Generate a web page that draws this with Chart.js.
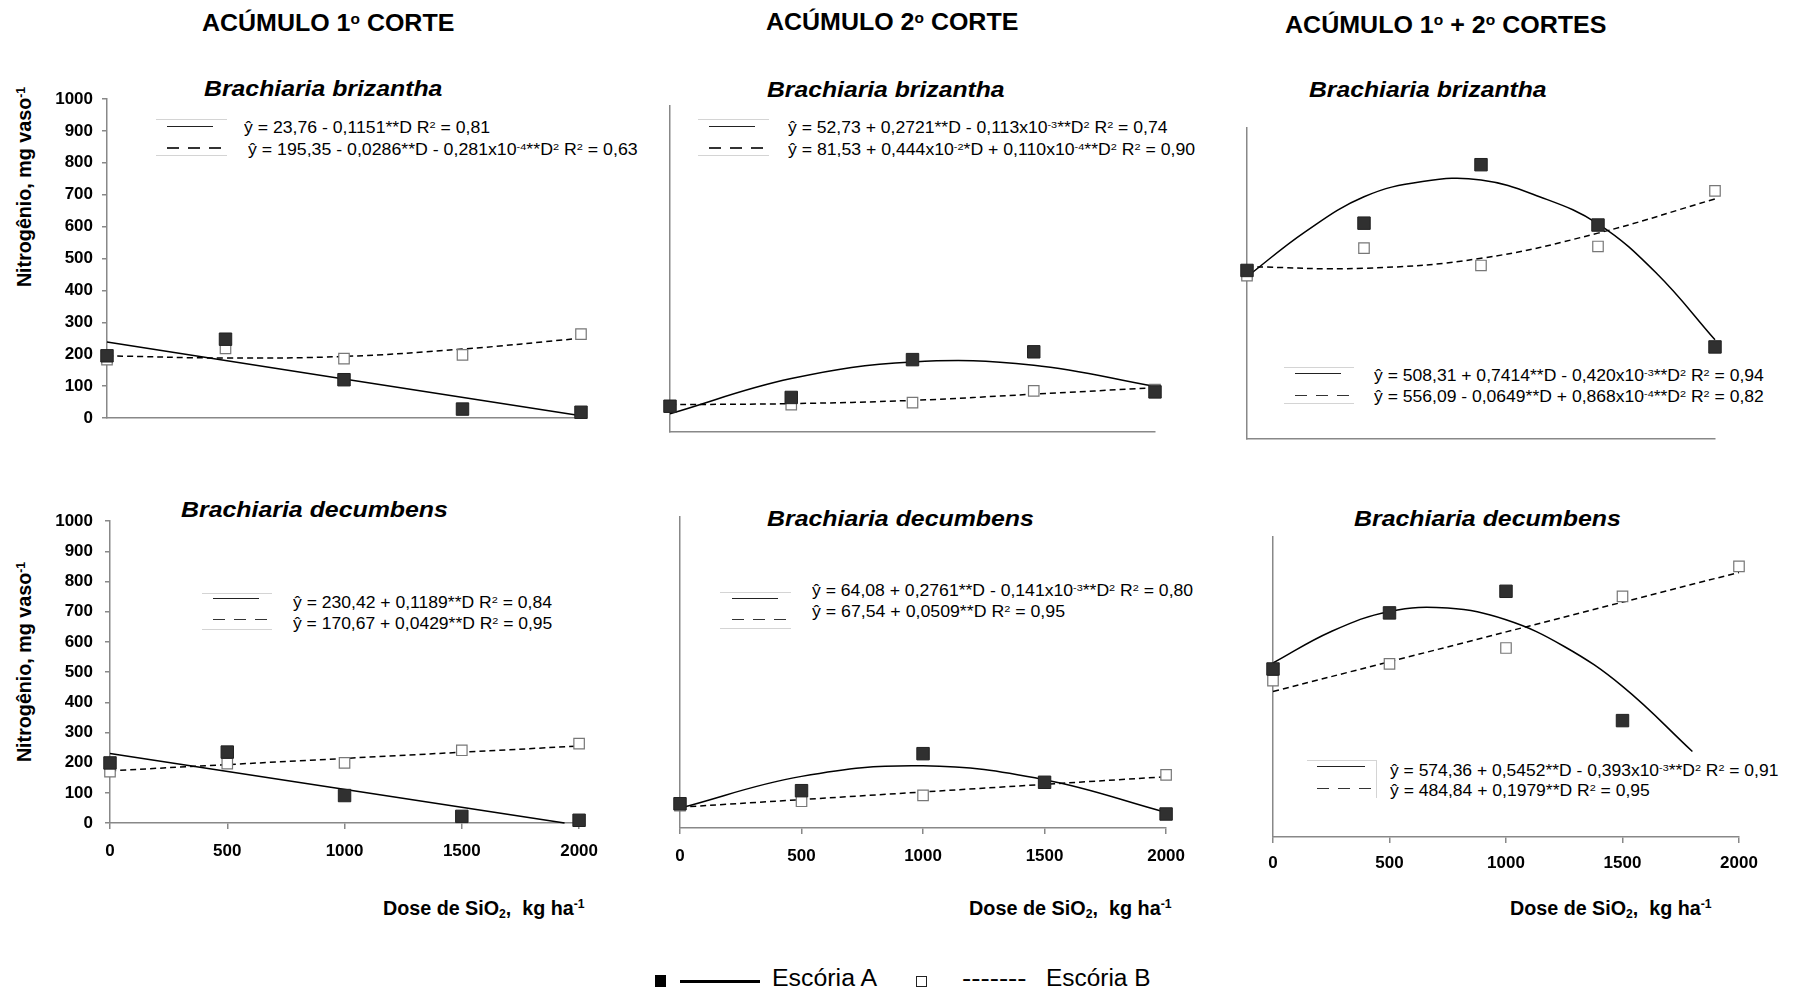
<!DOCTYPE html>
<html lang="pt">
<head>
<meta charset="utf-8">
<title>Nitrogênio acumulado – Brachiaria</title>
<script src="https://cdn.jsdelivr.net/npm/chart.js"></script>
<style>
  html, body { margin: 0; padding: 0; background: #fff; }
  body { position: relative; width: 1796px; height: 996px; overflow: hidden;
         font-family: 'Liberation Sans', Arial, Helvetica, sans-serif; color: #000; }
  canvas { position: absolute; }
  .tx { position: absolute; white-space: nowrap; line-height: 1; transform-origin: 0 50%; }
  .rot { transform-origin: 50% 50%; }
  .ttl { font-size: 23px; font-weight: bold; }
  .sub { font-size: 22px; font-weight: bold; font-style: italic; }
  .eq  { font-size: 16px; }
  .ax  { font-size: 20px; font-weight: bold; }
  .leg { font-size: 23px; }
  sup { font-size: 0.62em; position: relative; top: -0.5em; vertical-align: baseline; line-height: 0; }
  sub { font-size: 0.62em; position: relative; top: 0.3em; vertical-align: baseline; line-height: 0; }
  .key { position: absolute; box-sizing: border-box; border-top: 1px solid #d4d4d4; border-bottom: 1px solid #d4d4d4; }
  .ln  { position: absolute; height: 1.5px; background: #222; }
  .dl  { position: absolute; height: 1.5px;
         background: repeating-linear-gradient(90deg, #333 0 12px, transparent 12px 21px); }
  .box { position: absolute; box-sizing: border-box; }
</style>
</head>
<body>

<!-- column titles -->
<div class="tx ttl" style="left:202px;top:11.8px" data-w="252">ACÚMULO 1<sup>o</sup> CORTE</div>
<div class="tx ttl" style="left:766px;top:11px" data-w="252">ACÚMULO 2<sup>o</sup> CORTE</div>
<div class="tx ttl" style="left:1285px;top:13.5px" data-w="321">ACÚMULO 1<sup>o</sup> + 2<sup>o</sup> CORTES</div>

<!-- species headings -->
<div class="tx sub" style="left:204px;top:77.8px" data-w="239">Brachiaria brizantha</div>
<div class="tx sub" style="left:767px;top:78.5px" data-w="238">Brachiaria brizantha</div>
<div class="tx sub" style="left:1309px;top:78.5px" data-w="238">Brachiaria brizantha</div>
<div class="tx sub" style="left:181px;top:499px" data-w="267">Brachiaria decumbens</div>
<div class="tx sub" style="left:767px;top:507.7px" data-w="267">Brachiaria decumbens</div>
<div class="tx sub" style="left:1354px;top:508px" data-w="267">Brachiaria decumbens</div>

<!-- y axis titles -->
<div class="tx ax rot" style="left:24px;top:186.5px" data-w="200">Nitrogênio, mg vaso<sup>-1</sup></div>
<div class="tx ax rot" style="left:24px;top:662px" data-w="200">Nitrogênio, mg vaso<sup>-1</sup></div>

<!-- x axis titles -->
<div class="tx ax" style="left:383px;top:897.5px" data-w="202">Dose de SiO<sub>2</sub>,&nbsp; kg ha<sup>-1</sup></div>
<div class="tx ax" style="left:969px;top:897.5px" data-w="203">Dose de SiO<sub>2</sub>,&nbsp; kg ha<sup>-1</sup></div>
<div class="tx ax" style="left:1510px;top:897.5px" data-w="202">Dose de SiO<sub>2</sub>,&nbsp; kg ha<sup>-1</sup></div>

<!-- regression keys -->
<div class="key" style="left:156px;top:119px;width:71px;height:37px"></div>
<div class="ln" style="left:167px;top:125.5px;width:46px"></div>
<div class="dl" style="left:167px;top:147px;width:54px"></div>
<div class="tx eq" style="left:244.3px;top:119.5px" data-w="246">ŷ = 23,76 - 0,1151**D R<sup>2</sup> = 0,81</div>
<div class="tx eq" style="left:248.3px;top:141.5px" data-w="390">ŷ = 195,35 - 0,0286**D - 0,281x10<sup>-4</sup>**D<sup>2</sup> R<sup>2</sup> = 0,63</div>

<div class="key" style="left:698px;top:119px;width:71px;height:37px"></div>
<div class="ln" style="left:709px;top:125.5px;width:46px"></div>
<div class="dl" style="left:709px;top:147px;width:54px"></div>
<div class="tx eq" style="left:788px;top:119.5px" data-w="380">ŷ = 52,73 + 0,2721**D - 0,113x10<sup>-3</sup>**D<sup>2</sup> R<sup>2</sup> = 0,74</div>
<div class="tx eq" style="left:788px;top:141.5px" data-w="407">ŷ = 81,53 + 0,444x10<sup>-2</sup>*D + 0,110x10<sup>-4</sup>**D<sup>2</sup> R<sup>2</sup> = 0,90</div>

<div class="key" style="left:1284px;top:367px;width:70px;height:37px"></div>
<div class="ln" style="left:1295px;top:372.5px;width:46px"></div>
<div class="dl" style="left:1295px;top:394.5px;width:54px"></div>
<div class="tx eq" style="left:1373.6px;top:368px" data-w="390">ŷ = 508,31 + 0,7414**D - 0,420x10<sup>-3</sup>**D<sup>2</sup> R<sup>2</sup> = 0,94</div>
<div class="tx eq" style="left:1373.6px;top:389px" data-w="390">ŷ = 556,09 - 0,0649**D + 0,868x10<sup>-4</sup>**D<sup>2</sup> R<sup>2</sup> = 0,82</div>

<div class="key" style="left:202px;top:592.5px;width:70px;height:37px"></div>
<div class="ln" style="left:212.5px;top:597.5px;width:46.5px"></div>
<div class="dl" style="left:212.5px;top:618.5px;width:54px"></div>
<div class="tx eq" style="left:292.5px;top:595px" data-w="259">ŷ = 230,42 + 0,1189**D R<sup>2</sup> = 0,84</div>
<div class="tx eq" style="left:292.5px;top:615.5px" data-w="259">ŷ = 170,67 + 0,0429**D R<sup>2</sup> = 0,95</div>

<div class="key" style="left:720px;top:592px;width:71px;height:37px"></div>
<div class="ln" style="left:732px;top:597.5px;width:46px"></div>
<div class="dl" style="left:732px;top:618.5px;width:54px"></div>
<div class="tx eq" style="left:811.5px;top:582.5px" data-w="381.5">ŷ = 64,08 + 0,2761**D - 0,141x10<sup>-3</sup>**D<sup>2</sup> R<sup>2</sup> = 0,80</div>
<div class="tx eq" style="left:811.5px;top:603.5px" data-w="252.6">ŷ = 67,54 + 0,0509**D R<sup>2</sup> = 0,95</div>

<div class="key" style="left:1307px;top:760px;width:70px;height:38px;border-bottom:none;border-right:1px solid #d4d4d4"></div>
<div class="ln" style="left:1317.4px;top:765.5px;width:47.6px"></div>
<div class="dl" style="left:1317.4px;top:787.5px;width:54px"></div>
<div class="tx eq" style="left:1389.7px;top:762.5px" data-w="388.7">ŷ = 574,36 + 0,5452**D - 0,393x10<sup>-3</sup>**D<sup>2</sup> R<sup>2</sup> = 0,91</div>
<div class="tx eq" style="left:1389.7px;top:782.5px" data-w="259.4">ŷ = 484,84 + 0,1979**D R<sup>2</sup> = 0,95</div>

<!-- shared legend -->
<div class="box" style="left:655px;top:975px;width:11px;height:12px;background:#000"></div>
<div class="box" style="left:680px;top:979.5px;width:80px;height:3px;background:#000"></div>
<div class="tx leg" style="left:771.7px;top:966.8px" data-w="105">Escória A</div>
<div class="box" style="left:916px;top:976px;width:11px;height:11px;border:1px solid #222;background:#fff"></div>
<div class="tx leg" style="left:961.7px;top:966.8px" data-w="65">-------</div>
<div class="tx leg" style="left:1046px;top:966.8px" data-w="104">Escória B</div>

<script>
// doses de SiO2 (kg/ha)
const doses = [0, 500, 1000, 1500, 2000];
const dosesAte1500 = [0, 500, 1000, 1500];
const lineDoses = [0, 2000];
const curveDoses = [0, 250, 500, 750, 1000, 1250, 1500, 1750, 2000];

// Acúmulo 1º corte – B. brizantha (mg/vaso)
const c1BrizA = [195, 247, 120, 28, 18];
const c1BrizB = [183, 218, 186, 198, 263];
const c1BrizFitA = [238, 7];
const c1BrizFitB = [195, 188, 193, 216, 250];

// Acúmulo 2º corte – B. brizantha
const c2BrizA = [79, 106, 222, 246, 123];
const c2BrizB = [80, 84, 90, 126, 130];
const c2BrizFitA = [56, 164, 215, 205, 140];
const c2BrizFitB = [84, 87, 97, 116, 136];

// Acúmulo 1º + 2º cortes – B. brizantha
const totBrizA = [542, 694, 882, 688, 296];
const totBrizB = [525, 614, 558, 619, 798];
const totBrizFitA = [522, 667, 779, 828, 833, 779, 692, 533, 319];
const totBrizFitB = [554, 549, 581, 662, 772];

// Acúmulo 1º corte – B. decumbens
const c1DecA = [199, 235, 91, 22, 9];
const c1DecB = [170, 197, 199, 241, 263];
const c1DecFitADoses = [0, 1938];
const c1DecFitA = [230, 0];
const c1DecFitB = [173, 255];

// Acúmulo 2º corte – B. decumbens
const c2DecA = [78, 120, 239, 147, 45];
const c2DecB = [72, 86, 105, 145, 171];
const c2DecFitA = [64, 166, 200, 155, 50];
const c2DecFitB = [67, 165];

// Acúmulo 1º + 2º cortes – B. decumbens
const totDecA = [560, 747, 819, 388];
const totDecB = [521, 577, 630, 802, 902];
const totDecFitADoses = [0, 250, 500, 750, 1000, 1250, 1500, 1800];
const totDecFitA = [580, 685, 752, 763, 724, 635, 502, 285];
const totDecFitB = [485, 882];

const FONT = "'Liberation Sans', Arial, Helvetica, sans-serif";
const PAD = { left: 20, top: 20, right: 30, bottom: 20 };

const xy = (xs, ys) => ys.map((y, i) => ({ x: xs[i], y }));
const plain = v => String(v);   // no thousands separator on the ticks

// one small chart per panel; box = plot area [left, top, right, bottom] on the page
function panel(box, axes, s) {
  const [left, top, right, bottom] = box;
  const yW = axes.yPad != null ? 70 : 0;
  const xH = axes.xPad != null ? 45 : 0;
  const canvas = document.createElement('canvas');
  canvas.width = PAD.left + yW + (right - left) + PAD.right;
  canvas.height = PAD.top + (bottom - top) + xH + PAD.bottom;
  canvas.style.left = (left - yW - PAD.left) + 'px';
  canvas.style.top = (top - PAD.top) + 'px';
  document.body.appendChild(canvas);

  const tickFont = { family: FONT, size: 17, weight: 'bold' };

  new Chart(canvas, {
    type: 'line',
    data: {
      datasets: [
        { label: 'Escória A', data: xy(s.aDoses || doses, s.a), showLine: false,
          pointStyle: 'rect', pointRadius: 8.8, backgroundColor: '#303030',
          borderColor: '#222', borderWidth: 1, clip: false },
        { label: 'Escória B', data: xy(doses, s.b), showLine: false,
          pointStyle: 'rect', pointRadius: 7.4, backgroundColor: '#fff',
          borderColor: '#777', borderWidth: 1.2, clip: false },
        { data: xy(s.fitAx, s.fitA), borderColor: '#000', borderWidth: 1.5,
          pointRadius: 0, tension: 0.4, clip: false },
        { data: xy(s.fitBx, s.fitB), borderColor: '#000', borderWidth: 1.5,
          borderDash: [6, 4], pointRadius: 0, tension: 0.4, clip: false }
      ]
    },
    options: {
      responsive: false,
      animation: false,
      events: [],
      devicePixelRatio: 1,
      layout: { padding: PAD },
      plugins: { legend: { display: false }, tooltip: { enabled: false } },
      scales: {
        x: {
          type: 'linear', min: 0, max: 2000,
          ticks: { display: xH > 0, stepSize: 500, padding: axes.xPad || 0, font: tickFont,
                   color: '#000', maxRotation: 0, autoSkip: false, callback: plain },
          grid: { display: xH > 0, drawOnChartArea: false, tickLength: 6, color: '#888', lineWidth: 1.5 },
          border: { color: '#888', width: 1.5 },
          afterFit: sc => { sc.height = xH; }
        },
        y: {
          type: 'linear', min: 0, max: 1000,
          ticks: { display: yW > 0, stepSize: 100, padding: axes.yPad || 0, font: tickFont,
                   color: '#000', callback: plain },
          grid: { display: yW > 0, drawOnChartArea: false, tickLength: 5, color: '#888', lineWidth: 1.5 },
          border: { color: '#888', width: 1.5 },
          afterFit: sc => { sc.width = yW; }
        }
      }
    }
  });
}

panel([107, 99, 581, 418], { yPad: 9 },
  { a: c1BrizA, b: c1BrizB, fitAx: lineDoses, fitA: c1BrizFitA, fitBx: doses, fitB: c1BrizFitB });
panel([670, 106, 1155, 432], {},
  { a: c2BrizA, b: c2BrizB, fitAx: doses, fitA: c2BrizFitA, fitBx: doses, fitB: c2BrizFitB });
panel([1247, 128, 1715, 439], {},
  { a: totBrizA, b: totBrizB, fitAx: curveDoses, fitA: totBrizFitA, fitBx: doses, fitB: totBrizFitB });
panel([110, 519, 580, 823], { yPad: 12, xPad: 12 },
  { a: c1DecA, b: c1DecB, fitAx: c1DecFitADoses, fitA: c1DecFitA, fitBx: lineDoses, fitB: c1DecFitB });
panel([680, 517, 1167, 828], { xPad: 12 },
  { a: c2DecA, b: c2DecB, fitAx: doses, fitA: c2DecFitA, fitBx: lineDoses, fitB: c2DecFitB });
panel([1273, 537, 1739, 837], { xPad: 10 },
  { a: totDecA, aDoses: dosesAte1500, b: totDecB, fitAx: totDecFitADoses, fitA: totDecFitA,
    fitBx: lineDoses, fitB: totDecFitB });

// stretch each text run to its set width
document.querySelectorAll('.tx[data-w]').forEach(el => {
  const k = (+el.dataset.w / el.offsetWidth).toFixed(3);
  el.style.transform = el.classList.contains('rot')
    ? `translate(-50%, -50%) rotate(-90deg) scaleX(${k})`
    : `scaleX(${k})`;
});
</script>
</body>
</html>
